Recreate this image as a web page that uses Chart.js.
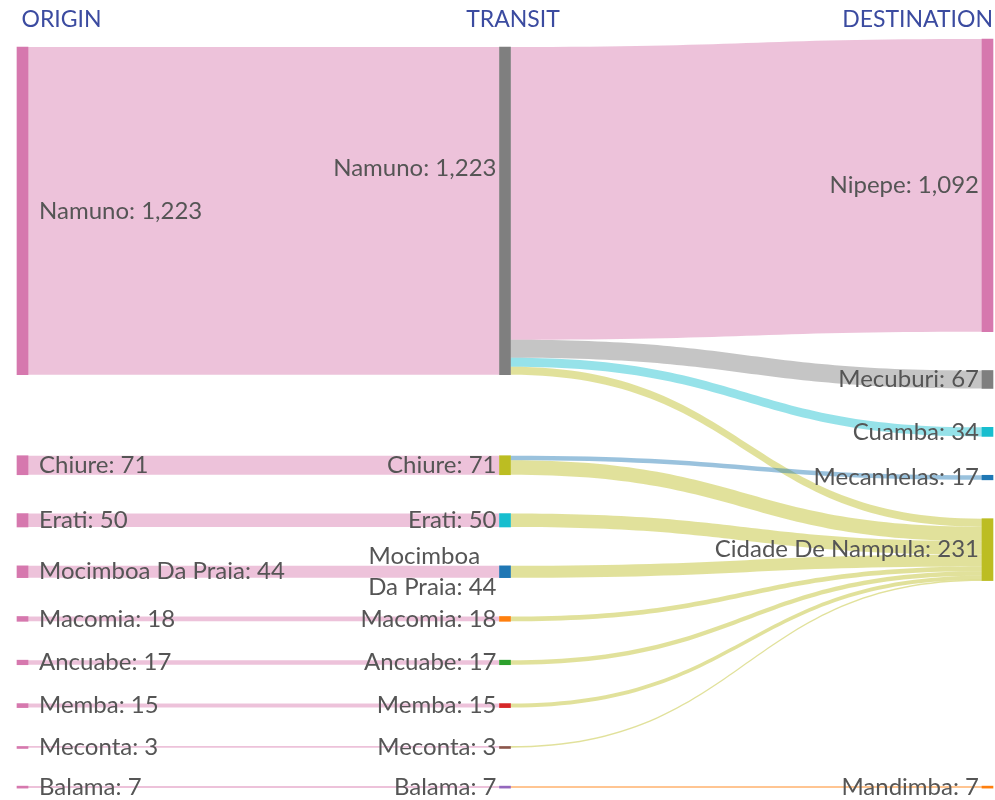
<!DOCTYPE html>
<html>
<head>
<meta charset="utf-8">
<script src="https://cdn.jsdelivr.net/npm/chart.js@4/dist/chart.umd.min.js"></script>
<style>
  html, body { margin: 0; padding: 0; background: #fff; }
  #wrap { width: 995px; height: 800px; }
</style>
</head>
<body>
<div id="wrap"><canvas id="sankey" width="995" height="800"></canvas></div>
<script>
// --- data ---------------------------------------------------------------
const COLUMNS = ['ORIGIN', 'TRANSIT', 'DESTINATION'];

const origins = ['Namuno', 'Chiure', 'Erati', 'Mocimboa Da Praia', 'Macomia',
  'Ancuabe', 'Memba', 'Meconta', 'Balama'];
const originValues = [1223, 71, 50, 44, 18, 17, 15, 3, 7];

const destinations = ['Nipepe', 'Mecuburi', 'Cuamba', 'Mecanhelas',
  'Cidade De Nampula', 'Mandimba'];

// transit -> destination flows
const flowFrom = ['Namuno', 'Namuno', 'Namuno', 'Namuno', 'Chiure', 'Chiure',
  'Erati', 'Mocimboa Da Praia', 'Macomia', 'Ancuabe', 'Memba', 'Meconta', 'Balama'];
const flowTo = ['Nipepe', 'Mecuburi', 'Cuamba', 'Cidade De Nampula', 'Mecanhelas',
  'Cidade De Nampula', 'Cidade De Nampula', 'Cidade De Nampula', 'Cidade De Nampula',
  'Cidade De Nampula', 'Cidade De Nampula', 'Cidade De Nampula', 'Mandimba'];
const flowValues = [1092, 67, 34, 30, 17, 54, 50, 44, 18, 17, 15, 3, 7];

// --- colours -------------------------------------------------------------
const originColor = '#d678ae';
const transitColors = ['#7f7f7f', '#bcbd22', '#17becf', '#1f77b4', '#ff7f0e',
  '#2ca02c', '#d62728', '#8c564b', '#9467bd'];
const destColors = ['#d678ae', '#7f7f7f', '#17becf', '#1f77b4', '#bcbd22', '#ff7f0e'];
const LINK_ALPHA = 0.45;
const TEXT = '#555555';
const HEAD = '#3b4ba0';
const FONT = 'Lato, "Open Sans", sans-serif';

// --- layout (value units on the y scale) ----------------------------------
const Y_MAX = 2795;
const GAP = 145;
const NODE_W = 11;
const MIN_LINK_PX = 1.6;
// per column: how many nodes stack from the top and where that stack starts;
// the remaining nodes stack up from the bottom
const colLayout = [
  { topCount: 1, topStart: 30 },
  { topCount: 1, topStart: 30 },
  { topCount: 5, topStart: 0 }
];

function hexA(hex, a) {
  const n = parseInt(hex.slice(1), 16);
  return 'rgba(' + (n >> 16) + ',' + ((n >> 8) & 255) + ',' + (n & 255) + ',' + a + ')';
}

// build node list
const nodes = [];
origins.forEach((n, i) => nodes.push({ id: 'o:' + n, name: n, col: 0, color: originColor }));
origins.forEach((n, i) => nodes.push({ id: 't:' + n, name: n, col: 1, color: transitColors[i] }));
destinations.forEach((n, i) => nodes.push({ id: 'd:' + n, name: n, col: 2, color: destColors[i] }));
const byId = {};
nodes.forEach(n => { byId[n.id] = n; n.inL = []; n.outL = []; });

const links = [];
origins.forEach((n, i) => links.push({ s: byId['o:' + n], t: byId['t:' + n], v: originValues[i] }));
flowFrom.forEach((f, i) => links.push({ s: byId['t:' + f], t: byId['d:' + flowTo[i]], v: flowValues[i] }));
links.forEach(l => { l.s.outL.push(l); l.t.inL.push(l); });
nodes.forEach(n => {
  const a = n.inL.reduce((s, l) => s + l.v, 0);
  const b = n.outL.reduce((s, l) => s + l.v, 0);
  n.value = Math.max(a, b);
});

// stack nodes in each column
[0, 1, 2].forEach(c => {
  const col = nodes.filter(n => n.col === c);
  const cfg = colLayout[c];
  let y = cfg.topStart;
  col.slice(0, cfg.topCount).forEach(n => { n.y0 = y; n.y1 = y + n.value; y = n.y1 + GAP; });
  y = Y_MAX;
  col.slice(cfg.topCount).reverse().forEach(n => { n.y1 = y; n.y0 = y - n.value; y = n.y0 - GAP; });
});

// link offsets inside nodes
nodes.forEach(n => {
  let o = n.y0;
  n.outL.slice().sort((a, b) => a.t.y0 - b.t.y0).forEach(l => { l.sy0 = o; o += l.v; l.sy1 = o; });
  o = n.y0;
  n.inL.slice().sort((a, b) => a.s.y0 - b.s.y0).forEach(l => { l.ty0 = o; o += l.v; l.ty1 = o; });
});

// label tweaks
const labelLines = { 't:Mocimboa Da Praia': ['Mocimboa', 'Da Praia: 44'] };
const labelShift = { 't:Namuno': -43 };

// keep very thin bands visible
function band(p0, p1) {
  if (p1 - p0 >= MIN_LINK_PX) return [p0, p1];
  const m = (p0 + p1) / 2;
  return [m - MIN_LINK_PX / 2, m + MIN_LINK_PX / 2];
}

// --- plugins -------------------------------------------------------------
const linkPlugin = {
  id: 'links',
  beforeDatasetsDraw(chart) {
    const { ctx, scales: { x, y } } = chart;
    ctx.save();
    links.forEach(l => {
      const x0 = x.getPixelForValue(l.s.col) + NODE_W / 2;
      const x1 = x.getPixelForValue(l.t.col) - NODE_W / 2;
      const xm = (x0 + x1) / 2;
      const [a0, a1] = band(y.getPixelForValue(l.sy0), y.getPixelForValue(l.sy1));
      const [b0, b1] = band(y.getPixelForValue(l.ty0), y.getPixelForValue(l.ty1));
      ctx.beginPath();
      ctx.moveTo(x0, a0);
      ctx.bezierCurveTo(xm, a0, xm, b0, x1, b0);
      ctx.lineTo(x1, b1);
      ctx.bezierCurveTo(xm, b1, xm, a1, x0, a1);
      ctx.closePath();
      const c = l.s.col === 0 ? l.s.color : l.t.color;
      ctx.fillStyle = hexA(c, LINK_ALPHA);
      ctx.fill();
    });
    ctx.restore();
  }
};

const labelPlugin = {
  id: 'labels',
  afterDatasetsDraw(chart) {
    const { ctx, scales: { x, y } } = chart;
    ctx.save();
    ctx.font = '24px ' + FONT;
    ctx.fillStyle = TEXT;
    ctx.textBaseline = 'middle';
    nodes.forEach(n => {
      const cy = y.getPixelForValue((n.y0 + n.y1) / 2) + (labelShift[n.id] || 0);
      const lines = labelLines[n.id] || [n.name + ': ' + n.value.toLocaleString('en-US')];
      const lh = 31;
      if (n.col === 0) {
        ctx.textAlign = 'left';
        const lx = x.getPixelForValue(0) + NODE_W / 2 + 11;
        lines.forEach((t, i) => ctx.fillText(t, lx, cy + (i - (lines.length - 1) / 2) * lh));
      } else {
        const rx = x.getPixelForValue(n.col) - NODE_W / 2 - 3;
        if (lines.length > 1) {
          const w = Math.max(...lines.map(t => ctx.measureText(t).width));
          ctx.textAlign = 'center';
          lines.forEach((t, i) => ctx.fillText(t, rx - w / 2 - (i === 0 ? 8 : 0),
            cy + (i - (lines.length - 1) / 2) * lh));
        } else {
          ctx.textAlign = 'right';
          ctx.fillText(lines[0], rx, cy);
        }
      }
    });
    // column headings
    ctx.font = '23px ' + FONT;
    ctx.fillStyle = HEAD;
    const hy = 20;
    ctx.textAlign = 'left';
    ctx.fillText(COLUMNS[0], x.getPixelForValue(0) - 1, hy);
    ctx.textAlign = 'center';
    ctx.fillText(COLUMNS[1], x.getPixelForValue(1) + 8, hy);
    ctx.textAlign = 'right';
    ctx.fillText(COLUMNS[2], x.getPixelForValue(2) + NODE_W / 2, hy);
    ctx.restore();
  }
};

// --- chart: nodes are floating bars on linear scales -----------------------
new Chart(document.getElementById('sankey'), {
  type: 'bar',
  data: {
    datasets: [{
      data: nodes.map(n => ({ x: n.col, y: [n.y0, n.y1] })),
      backgroundColor: nodes.map(n => n.color),
      borderWidth: 0,
      borderSkipped: false,
      barThickness: NODE_W,
      minBarLength: 2,
      clip: false
    }]
  },
  options: {
    responsive: false,
    animation: false,
    events: [],
    layout: { padding: { left: 22.5, right: 7.5, top: 39, bottom: 12 } },
    plugins: { legend: { display: false }, tooltip: { enabled: false } },
    scales: {
      x: { type: 'linear', min: 0, max: 2, offset: false, display: false },
      y: { type: 'linear', min: 0, max: Y_MAX, reverse: true, display: false }
    }
  },
  plugins: [linkPlugin, labelPlugin]
});
</script>
</body>
</html>
